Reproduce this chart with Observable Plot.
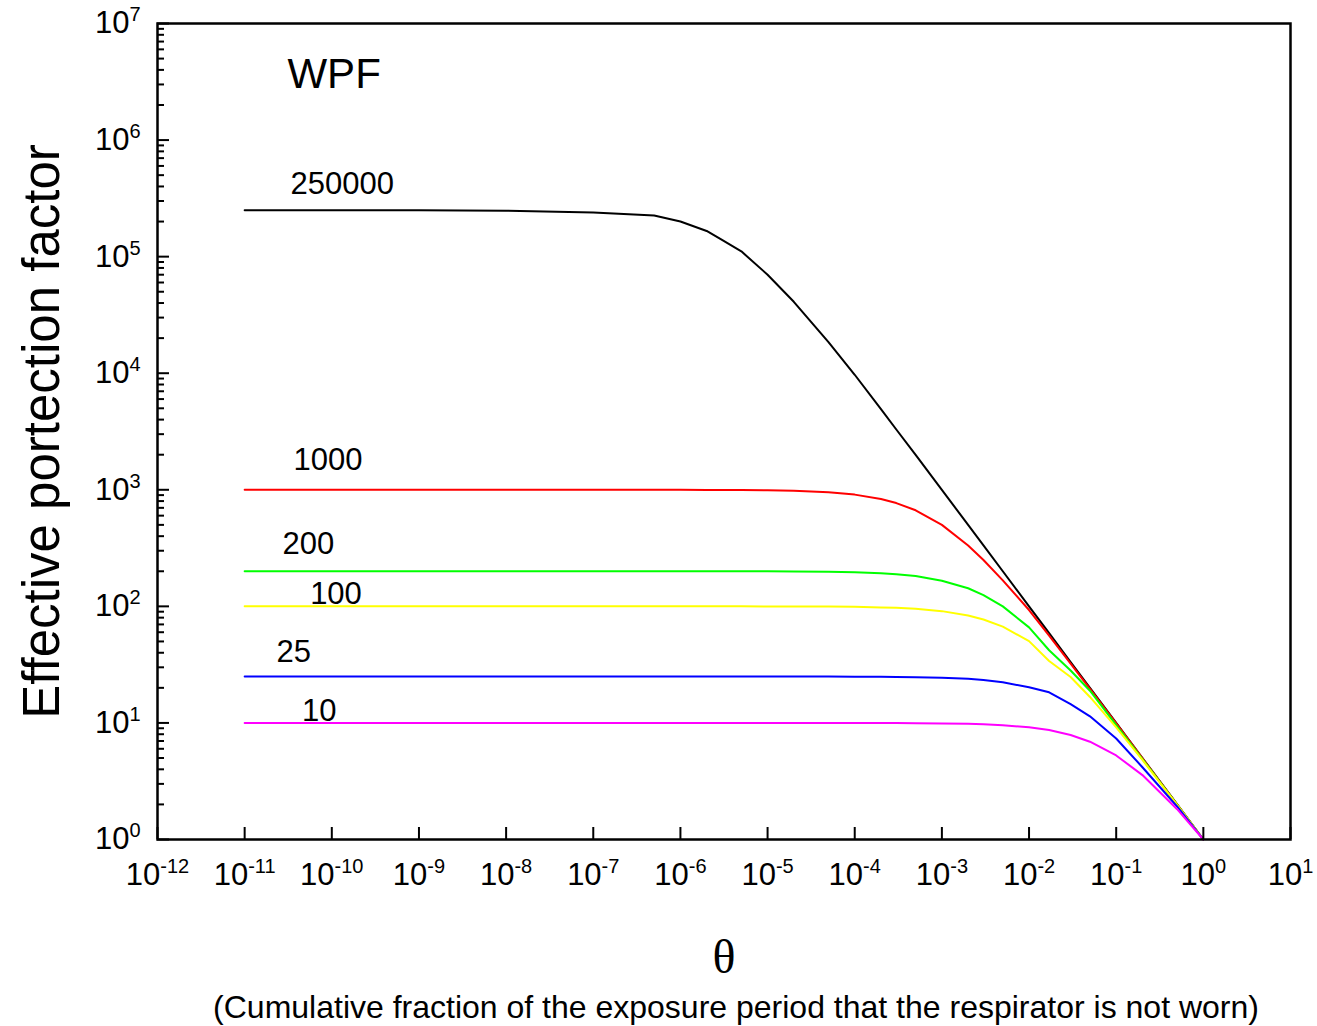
<!DOCTYPE html>
<html>
<head>
<meta charset="utf-8">
<script src="https://cdn.jsdelivr.net/npm/d3@7"></script>
<script src="https://cdn.jsdelivr.net/npm/@observablehq/plot@0.6"></script>
<style>
  body { margin: 0; background: #fff; }
  svg { display: block; }
</style>
</head>
<body>
<div id="chart"></div>
<script>
// Cumulative fraction of exposure period respirator not worn (x)
const theta = [1e-11, 1e-10, 1e-9, 1e-8, 1e-7, 5e-7, 1e-6, 2e-6, 3e-6, 5e-6, 1e-5, 2e-5, 5e-5, 1e-4, 2e-4, 3e-4, 5e-4,
               1e-3, 2e-3, 3e-3, 5e-3, 1e-2, 1.7e-2, 3e-2, 5e-2, 1e-1, 2e-1, 5e-1, 1];

// Effective protection factor for each workplace protection factor
const wpf250000 = [250000, 250000, 249500, 248000, 239000, 225000, 200000, 166000, 139000, 111000, 70000, 41000, 18500, 9700, 4920, 3290, 1990,
                   998, 500, 333, 200, 100, 59, 33.3, 20, 10, 5, 2, 1];
const wpf1000   = [1000, 1000, 1000, 1000, 1000, 1000, 999, 998, 997, 995, 990, 980, 952, 909, 833, 769, 667,
                   500, 333, 250, 167, 93, 56, 32.3, 19.6, 9.9, 4.98, 2, 1];
const wpf200    = [200, 200, 200, 200, 200, 200, 200, 200, 199.9, 199.8, 199.6, 199.2, 198, 196, 192, 188.7, 182,
                   166, 143, 125, 100, 66, 42, 28.2, 18.9, 9.57, 4.9, 1.99, 1];
const wpf100    = [100, 100, 100, 100, 100, 100, 100, 100, 100, 100, 99.9, 99.8, 99.5, 99, 98, 97.1, 95.3,
                   91, 83.5, 77.1, 67, 50.3, 34, 24.8, 16.7, 9.17, 4.81, 1.98, 1];
const wpf25     = [25, 25, 25, 25, 25, 25, 25, 25, 25, 25, 25, 25, 24.97, 24.94, 24.88, 24.8, 24.7,
                   24.4, 23.9, 23.3, 22.3, 20.2, 18.3, 14.5, 11.4, 7.35, 4.17, 1.92, 1];
const wpf10     = [10, 10, 10, 10, 10, 10, 10, 10, 10, 10, 10, 10, 10, 10, 9.98, 9.97, 9.95,
                   9.91, 9.82, 9.74, 9.57, 9.17, 8.7, 7.87, 6.9, 5.26, 3.57, 1.82, 1];

const seriesNames  = ["250000", "1000", "200", "100", "25", "10"];
const seriesColors = ["#000000", "#ff0000", "#00ff00", "#ffff00", "#0000ff", "#ff00ff"];
const seriesValues = [wpf250000, wpf1000, wpf200, wpf100, wpf25, wpf10];

// Tick values
const xTicks = [1e-12, 1e-11, 1e-10, 1e-9, 1e-8, 1e-7, 1e-6, 1e-5, 1e-4, 1e-3, 1e-2, 1e-1, 1, 10];
const yTicks = [1, 10, 100, 1000, 1e4, 1e5, 1e6, 1e7];
const yMinorMultiples = [2, 3, 4, 5, 6, 7, 8, 9];

// In-plot labels (anchor at left/baseline, in data units)
const labelTexts = ["250000", "1000", "200", "100", "25", "10"];
const labelTheta = [3.36e-11, 3.64e-11, 2.72e-11, 5.64e-11, 2.32e-11, 4.56e-11];
const labelValue = [3.48e5, 1490, 284, 104, 33, 10.35];
const titleText = "WPF";
const titleTheta = 3.1e-11;
const titleValue = 2.77e6;

const yAxisTitle = "Effective portection factor";
const xAxisTitle = "θ";
const xAxisCaption = "(Cumulative fraction of the exposure period that the respirator is not worn)";

const rows = seriesNames.flatMap((name, i) =>
  theta.map((t, j) => ({series: name, theta: t, epf: seriesValues[i][j]})));
const labels = labelTexts.map((t, i) => ({text: t, theta: labelTheta[i], epf: labelValue[i]}));
const yMinor = yTicks.slice(0, -1).flatMap(d => yMinorMultiples.map(k => k * d));

const expFormat = d => "10^" + Math.round(Math.log10(d));
const font = "'Liberation Sans', Arial, Helvetica, sans-serif";

const chart = Plot.plot({
  width: 1317,
  height: 1026,
  marginLeft: 157,
  marginRight: 27,
  marginTop: 23,
  marginBottom: 187,
  style: {fontFamily: font, background: "#fff", color: "#000"},
  x: {type: "log", domain: [1e-12, 10]},
  y: {type: "log", domain: [1, 1e7]},
  color: {domain: seriesNames, range: seriesColors},
  marks: [
    Plot.line(rows, {x: "theta", y: "epf", z: "series", stroke: "series", strokeWidth: 2}),
    Plot.axisY({ticks: yMinor, tickSize: -7, fill: "none", strokeWidth: 2, label: null}),
    Plot.axisY({ticks: yTicks, tickSize: -12, fill: "none", strokeWidth: 2, label: null}),
    Plot.axisY({ticks: yTicks, tickSize: 0, tickPadding: 17, tickFormat: expFormat, fontSize: 31, label: null}),
    Plot.axisX({ticks: xTicks, tickSize: -12, fill: "none", strokeWidth: 2, label: null}),
    Plot.axisX({ticks: xTicks, tickSize: 0, tickPadding: 23, tickFormat: expFormat, fontSize: 31, label: null}),
    Plot.frame({stroke: "#000", strokeWidth: 2.5}),
    Plot.text(labels, {x: "theta", y: "epf", text: "text", textAnchor: "start", lineAnchor: "bottom", fontSize: 31, fill: "#000"}),
    Plot.text([titleText], {x: () => titleTheta, y: () => titleValue, text: d => d, textAnchor: "start", lineAnchor: "bottom", fontSize: 42, fill: "#000"}),
    Plot.text([yAxisTitle], {frameAnchor: "left", dx: -99, rotate: -90, textAnchor: "middle", lineAnchor: "bottom", fontSize: 51, fill: "#000"}),
    Plot.text([xAxisTitle], {frameAnchor: "bottom", dy: 133, textAnchor: "middle", lineAnchor: "bottom", fontSize: 48, fontFamily: "'Liberation Serif', 'Times New Roman', serif", fill: "#000"}),
    Plot.text([xAxisCaption], {frameAnchor: "bottom", dx: 12, dy: 178, textAnchor: "middle", lineAnchor: "bottom", fontSize: 32, fill: "#000"})
  ]
});

// Render exponents as superscripts
d3.select(chart).selectAll("text").each(function () {
  const m = /^10\^(-?\d+)$/.exec(this.textContent);
  if (m) {
    const sel = d3.select(this);
    sel.text("10");
    sel.append("tspan").attr("dy", "-12").attr("font-size", "20").text(m[1]);
  }
});

document.getElementById("chart").appendChild(chart);
</script>
</body>
</html>
